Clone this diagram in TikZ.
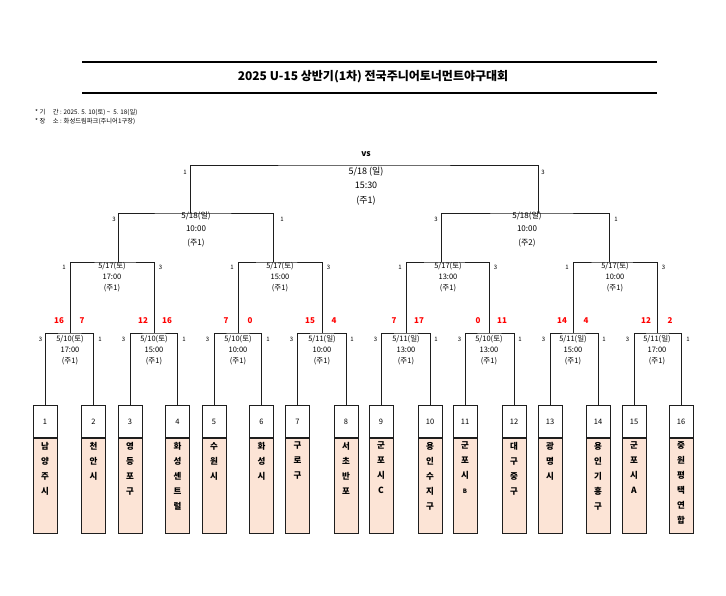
\documentclass[tikz,border=0pt]{standalone}
\usepackage{fontspec}
\setmainfont{Noto Sans CJK KR}
\usetikzlibrary{positioning}
\definecolor{boxFill}{RGB}{252,228,214}
\definecolor{scoreRed}{RGB}{255,0,0}
\definecolor{lineColor}{RGB}{30,30,30}

\tikzset{
  bline/.style={draw=lineColor,line width=0.9pt},
  numbox/.style={draw=lineColor,line width=0.9pt,fill=white,anchor=north,minimum width=24pt,minimum height=32pt,inner sep=0pt,font=\fontsize{7.5}{9}\selectfont},
  namebox/.style={draw=lineColor,line width=0.9pt,fill=boxFill,minimum width=24pt,minimum height=95pt,inner sep=0pt},
  teamname/.style={anchor=north,align=center,inner sep=0pt,font=\bfseries\fontsize{8.5}{15}\selectfont},
  matchinfo/.style={anchor=north,align=center,inner sep=0pt,font=\fontsize{7.5}{11}\selectfont},
  seed/.style={inner sep=0pt,font=\fontsize{6}{7}\selectfont},
  score/.style={inner sep=0pt,text=scoreRed,font=\bfseries\fontsize{8}{9}\selectfont},
}

\begin{document}
\begin{tikzpicture}[x=1pt,y=-1pt]
\path[use as bounding box,fill=white] (0,0) rectangle (726,595);

% title
\draw[line width=1.2pt] (82,62) -- (657,62);
\draw[line width=1.2pt] (82,93) -- (657,93);
\node[inner sep=0pt,font=\bfseries\fontsize{12}{14}\selectfont] (title) at (373,77) {2025 U-15 상반기(1차) 전국주니어토너먼트야구대회};
\node[anchor=base west,inner sep=0pt,font=\fontsize{6.3}{7}\selectfont] (period) at (35,114) {* 기\hspace{1.2em}간 : 2025. 5. 10(토) \textasciitilde\ \ 5. 18(일)};
\node[anchor=base west,inner sep=0pt,font=\fontsize{6.3}{7}\selectfont] (place) at (35,123) {* 장\hspace{1.2em}소 : 화성드림파크(주니어1구장)};

% teams
\foreach \i/\x/\nm in {1/45/{남\\양\\주\\시},2/93.5/{천\\안\\시},3/130/{영\\등\\포\\구},4/177.5/{화\\성\\센\\트\\럴},
                       5/214/{수\\원\\시},6/261.5/{화\\성\\시},7/297.5/{구\\로\\구},8/346/{서\\초\\반\\포},
                       9/381/{군\\포\\시\\C},10/430/{용\\인\\수\\지\\구},11/465/{군\\포\\시\\{\fontsize{6}{7}\selectfont B}},12/514/{대\\구\\중\\구},
                       13/550/{광\\명\\시},14/598/{용\\인\\기\\흥\\구},15/634/{군\\포\\시\\A},16/681/{중\\원\\평\\택\\연\\합}}{
  \node[numbox] (n\i) at (\x,405) {\i};
  \node[namebox,below=0pt of n\i] (t\i) {};
  \node[teamname] (nm\i) at ([yshift=-4pt]t\i.north) {\nm};
}

% bracket joints
\coordinate (m1) at (70,333);  \coordinate (m2) at (154,333);
\coordinate (m3) at (238,333); \coordinate (m4) at (322,333);
\coordinate (m5) at (406,333); \coordinate (m6) at (489,333);
\coordinate (m7) at (573,333); \coordinate (m8) at (657,333);
\coordinate (q1) at (118,262); \coordinate (q2) at (273,262);
\coordinate (q3) at (441,262); \coordinate (q4) at (609,262);
\coordinate (s1) at (190,213); \coordinate (s2) at (538,213);
\coordinate (f) at (364,165);

% round 1
\foreach \a/\b/\m in {1/2/1,3/4/2,5/6/3,7/8/4,9/10/5,11/12/6,13/14/7,15/16/8}
  \draw[bline] (n\a.north) |- (m\m) -| (n\b.north);
% quarter finals
\foreach \a/\b/\q in {1/2/1,3/4/2,5/6/3,7/8/4}
  \draw[bline] (m\a) |- (q\q) -| (m\b);
% semi finals
\draw[bline] (q1) |- (s1) -| (q2);
\draw[bline] (q3) |- (s2) -| (q4);
% final
\draw[bline] (s1) |- (f) -| (s2);
\node[inner sep=0pt,font=\bfseries\fontsize{8.5}{10}\selectfont] (vs) at (366,154) {vs};

% match info
\foreach \i/\x/\d/\t in {1/70/{5/10(토)}/17:00,2/154/{5/10(토)}/15:00,3/238/{5/10(토)}/10:00,4/322/{5/11(일)}/10:00,
                         5/406/{5/11(일)}/13:00,6/489/{5/10(토)}/13:00,7/573/{5/11(일)}/15:00,8/657/{5/11(일)}/17:00}
  \node[matchinfo] (r\i) at (\x,335) {\d\\\t\\(주1)};
\foreach \i/\x/\t in {1/112/17:00,2/280/15:00,3/448/13:00,4/615/10:00}
  \node[matchinfo] (qi\i) at (\x,262.5) {5/17(토)\\\t\\(주1)};
\node[matchinfo,font=\fontsize{8}{13.5}\selectfont] (si1) at (196,211.5) {5/18(일)\\10:00\\(주1)};
\node[matchinfo,font=\fontsize{8}{13.5}\selectfont] (si2) at (527,211.5) {5/18(일)\\10:00\\(주2)};
\node[matchinfo,font=\fontsize{9}{14.5}\selectfont] (fi) at (366,166.5) {5/18 (일)\\15:30\\(주1)};

% seeds
\foreach \x in {47,130,214,298,382,466,550,634}
  \node[seed] at (\x-6.5,339) {3};
\foreach \x in {93,177,261,345,429,513,597,681}
  \node[seed] at (\x+7,339) {1};
\foreach \x in {70,238,406,573}
  \node[seed] at (\x-6,267) {1};
\foreach \x in {154,322,489,657}
  \node[seed] at (\x+6.5,267) {3};
\node[seed] at (114,219) {3}; \node[seed] at (282,219) {1};
\node[seed] at (436,219) {3}; \node[seed] at (616,219) {1};
\node[seed] at (185,172) {1}; \node[seed] at (543,172) {3};

% scores
\foreach \x/\s in {59/16,82/7,143/12,167/16,226/7,250/0,310/15,334/4,
                   394/7,419/17,478/0,502/11,562/14,586/4,646/12,670/2}
  \node[score] at (\x,321) {\s};
\end{tikzpicture}
\end{document}
